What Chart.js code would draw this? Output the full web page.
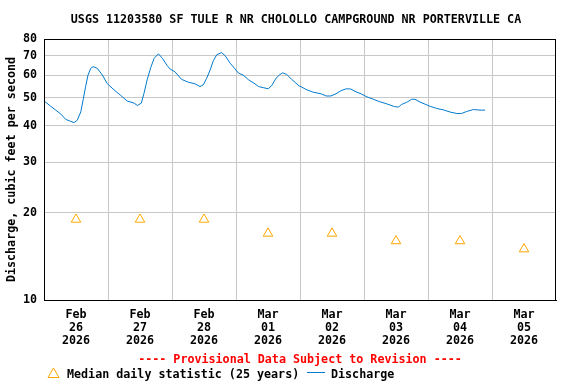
<!DOCTYPE html>
<html>
<head>
<meta charset="utf-8">
<script src="https://cdn.jsdelivr.net/npm/chart.js@4/dist/chart.umd.min.js"></script>
<style>
  html, body { margin: 0; padding: 0; background: #fff; }
  canvas { display: block; }
</style>
</head>
<body>
<canvas id="c" width="576" height="384"></canvas>
<script>
// ---- Data (hours since Feb 26 2026 00:00) ----
const chartTitle = 'USGS 11203580 SF TULE R NR CHOLOLLO CAMPGROUND NR PORTERVILLE CA';
const yAxisTitle = 'Discharge, cubic feet per second';
const provisionalText = '---- Provisional Data Subject to Revision ----';
const medianLegend = 'Median daily statistic (25 years)';
const dischargeLegend = 'Discharge';

const dayMonths = ['Feb', 'Feb', 'Feb', 'Mar', 'Mar', 'Mar', 'Mar', 'Mar'];
const dayNumbers = ['26', '27', '28', '01', '02', '03', '04', '05'];
const dayYears = ['2026', '2026', '2026', '2026', '2026', '2026', '2026', '2026'];
const yTicks = [10, 20, 30, 40, 50, 60, 70, 80];

const dischargeHours = [
  0, 2.5, 4.4, 6.3, 8.1, 10.0, 11.3, 12.5, 13.8, 14.7, 15.6, 16.5, 17.5, 18.4,
  20.0, 21.9, 23.7, 26.3, 28.8, 31.2, 33.8, 35.0, 36.5, 37.5, 38.7, 40.0, 41.3,
  42.9, 44.4, 46.2, 47.3, 49.1, 51.6, 54.1, 56.6, 58.5, 59.7, 61.0, 62.3, 63.5,
  64.8, 66.6, 67.9, 69.8, 71.6, 72.9, 74.7, 76.6, 79.1, 80.4, 82.2, 84.1, 85.4,
  87.0, 88.5, 89.5, 91.0, 92.9, 95.7, 96.4, 98.3, 100.8, 103.9, 105.8, 107.6,
  109.5, 111.4, 113.3, 115.1, 117.0, 118.9, 120.8, 123.3, 125.7, 128.3, 131.4,
  132.9, 134.1, 136.0, 137.9, 139.1, 141.0, 142.9, 144.8, 147.3, 149.7, 152.3,
  154.8, 156.6, 158.5, 161.0, 163.5, 165.4
];
const dischargeValues = [
  48.9, 46.8, 45.4, 44.0, 42.2, 41.5, 41.1, 41.9, 44.8, 49.4, 54.7, 60.0, 63.3, 64.2,
  63.3, 60.0, 56.1, 53.3, 51.0, 48.8, 48.0, 47.1, 48.0, 51.9, 57.9, 63.6, 68.6,
  71.1, 68.6, 64.7, 63.0, 61.6, 58.0, 56.7, 56.0, 54.8, 55.5, 58.5, 62.5, 67.3,
  70.6, 71.8, 70.1, 66.0, 63.1, 61.0, 60.0, 57.9, 56.0, 54.8, 54.3, 53.8, 55.2,
  58.5, 60.3, 61.1, 60.3, 58.0, 55.0, 54.7, 53.5, 52.4, 51.7, 50.8, 50.8,
  51.7, 53.0, 53.8, 53.7, 52.5, 51.7, 50.6, 49.6, 48.6, 47.8, 46.7,
  46.5, 47.5, 48.3, 49.5, 49.5, 48.4, 47.6, 46.8, 46.0, 45.5, 44.7,
  44.2, 44.2, 44.9, 45.6, 45.4, 45.4
];
const medianHours = [12, 36, 60, 84, 108, 132, 156, 180];
const medianValues = [19, 19, 19, 17, 17, 16, 16, 15];

// ---- Styles ----
const FONT = 'DejaVu Sans Mono';
const FS = 11.7;
const BLUE = 'rgb(0,122,204)';
const ORANGE = '#FFA500';
const GRID = '#c8c8c8';

const dischargePts = dischargeHours.map((h, i) => ({ x: h, y: dischargeValues[i] }));
const medianPts = medianHours.map((h, i) => ({ x: h, y: medianValues[i] }));

const extras = {
  id: 'extras',
  afterDraw(chart) {
    const ctx = chart.ctx;
    const a = chart.chartArea;
    ctx.save();
    // frame
    ctx.strokeStyle = '#000';
    ctx.lineWidth = 1;
    ctx.strokeRect(a.left + 0.5, a.top + 0.5, a.right - a.left - 1, a.bottom - a.top);
    ctx.font = 'bold ' + FS + 'px "' + FONT + '"';
    ctx.textBaseline = 'middle';
    // title
    ctx.fillStyle = '#000';
    ctx.textAlign = 'center';
    ctx.fillText(chartTitle, 296, 20);
    // provisional text
    ctx.fillStyle = '#ff0000';
    ctx.fillText(provisionalText, (a.left + a.right) / 2, 359.5);
    // legend
    const ly = 374.5;
    ctx.strokeStyle = ORANGE;
    ctx.lineWidth = 1;
    ctx.beginPath();
    ctx.moveTo(53.5, 368);
    ctx.lineTo(59, 377.5);
    ctx.lineTo(48, 377.5);
    ctx.closePath();
    ctx.stroke();
    ctx.fillStyle = '#000';
    ctx.textAlign = 'left';
    ctx.fillText(medianLegend, 67, ly);
    ctx.strokeStyle = BLUE;
    ctx.beginPath();
    ctx.moveTo(307, 372.5);
    ctx.lineTo(325, 372.5);
    ctx.stroke();
    ctx.fillText(dischargeLegend, 331, ly);
    ctx.restore();
  }
};

new Chart(document.getElementById('c'), {
  type: 'line',
  data: {
    datasets: [
      {
        label: dischargeLegend,
        data: dischargePts,
        borderColor: BLUE,
        borderWidth: 1,
        pointRadius: 0,
        tension: 0,
        fill: false
      },
      {
        label: medianLegend,
        data: medianPts,
        showLine: false,
        pointStyle: 'triangle',
        pointRadius: 5.5,
        pointBorderWidth: 1,
        pointBorderColor: ORANGE,
        pointBackgroundColor: 'rgba(0,0,0,0)'
      }
    ]
  },
  options: {
    responsive: false,
    animation: false,
    layout: { padding: { left: 0, right: 20, top: 39, bottom: 0 } },
    plugins: {
      legend: { display: false },
      tooltip: { enabled: false },
      title: { display: false }
    },
    scales: {
      x: {
        type: 'linear',
        min: 0,
        max: 192,
        afterBuildTicks(scale) {
          const t = [];
          for (let v = 12; v <= 180; v += 12) t.push({ value: v });
          scale.ticks = t;
        },
        afterFit(scale) { scale.height = 84; },
        grid: {
          drawTicks: false,
          color: (ctx) => (ctx.tick && ctx.tick.value % 24 === 0) ? GRID : 'rgba(0,0,0,0)'
        },
        border: { color: '#000', width: 1 },
        ticks: {
          autoSkip: false,
          maxRotation: 0,
          padding: 8.5,
          color: '#000',
          font: { family: FONT, size: FS, weight: 'bold', lineHeight: 13 / FS },
          callback(value) {
            if (value % 24 !== 12) return '';
            const i = (value - 12) / 24;
            return [dayMonths[i], dayNumbers[i], dayYears[i]];
          }
        }
      },
      y: {
        type: 'logarithmic',
        min: 10,
        max: 80,
        afterBuildTicks(scale) {
          scale.ticks = yTicks.map(v => ({ value: v }));
        },
        afterFit(scale) { scale.width = 44; },
        grid: { drawTicks: false, color: GRID },
        border: { color: '#000', width: 1 },
        ticks: {
          padding: 7,
          color: '#000',
          font: { family: FONT, size: FS, weight: 'bold' },
          callback(value) { return String(value); }
        },
        title: {
          display: true,
          text: yAxisTitle,
          color: '#000',
          font: { family: FONT, size: FS, weight: 'bold', lineHeight: 1.2 },
          padding: { top: 5, bottom: 0 }
        }
      }
    }
  },
  plugins: [extras]
});
</script>
</body>
</html>
